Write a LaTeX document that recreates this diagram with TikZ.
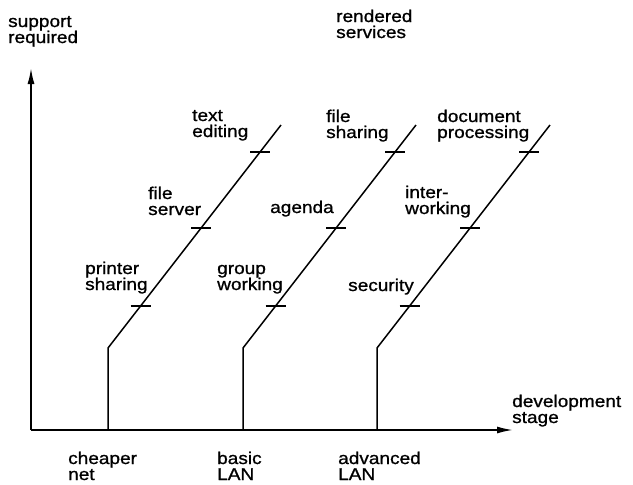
\documentclass[tikz,border=0pt]{standalone}
\usepackage{fontspec}
\setmainfont{Liberation Sans}[FakeStretch=1.12, FakeBold=1]
\usetikzlibrary{arrows.meta,calc}
\begin{document}
\begin{tikzpicture}[x=1pt,y=-1pt,
  lbl/.style={font=\fontsize{17}{16}\selectfont, align=left, inner sep=0pt, anchor=base west},
  axis/.style={line width=1.7pt, -{Latex[length=16pt,width=7pt]}},
  stage/.style={line width=1.5pt, line join=round},
  tickmark/.style={line width=1.2pt}]
\useasboundingbox (0,0) rectangle (633,485);

% axes
\coordinate (O) at (31,430);
\coordinate (ytop) at (31,68);
\coordinate (xend) at (513,430);
\draw[axis] (O) -- (ytop);
\draw[axis] (O) -- (xend);

% three development stages: vertical rise, then a slanted line of services
\foreach \i/\x in {1/108, 2/243, 3/377} {
  \coordinate (b\i) at (\x,430);
  \coordinate (k\i) at (\x,348);
  \coordinate (t\i) at (\x+173,125);
  \draw[stage] (b\i) -- (k\i) -- (t\i);
  \foreach \j/\p in {1/0.188, 2/0.538, 3/0.879} {
    \coordinate (m\i\j) at ($(k\i)!\p!(t\i)$);
    \draw[tickmark] ([xshift=-10pt]m\i\j) -- ([xshift=10pt]m\i\j);
  }
}

% axis titles (anchored at the baseline of their last line)
\node[lbl] (support) at (8,43) {support\\required};
\node[lbl] (rendered) at (336,38) {rendered\\services};
\node[lbl] (devstage) at (512,423) {development\\stage};

% stage names
\node[lbl] (cheaper) at (68,480) {cheaper\\net};
\node[lbl] (basic) at (217,480) {basic\\LAN};
\node[lbl] (advanced) at (338,480) {advanced\\LAN};

% services of the first stage
\node[lbl] (printer) at (85,290) {printer\\sharing};
\node[lbl] (fileserver) at (148,215) {file\\server};
\node[lbl] (textedit) at (192,137) {text\\editing};

% services of the second stage
\node[lbl] (group) at (217,290) {group\\working};
\node[lbl] (agenda) at (270,213) {agenda};
\node[lbl] (filesharing) at (326,138) {file\\sharing};

% services of the third stage
\node[lbl] (security) at (348,291) {security};
\node[lbl] (interworking) at (405,214) {inter-\\working};
\node[lbl] (docproc) at (437,138) {document\\processing};
\end{tikzpicture}
\end{document}
